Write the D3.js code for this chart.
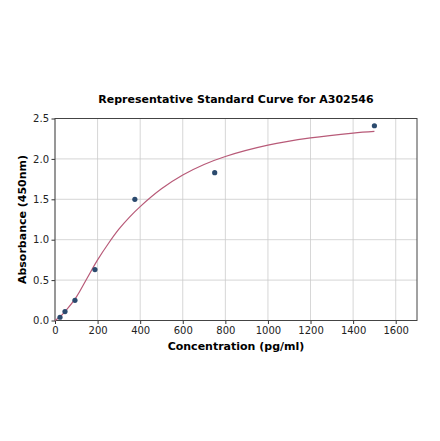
<!DOCTYPE html>
<html>
<head>
<meta charset="utf-8">
<script src="https://cdn.jsdelivr.net/npm/d3@7"></script>
<style>
body { margin: 0; background: #fff; }
svg { font-family: "DejaVu Sans", sans-serif; }
</style>
</head>
<body>
<script>
// standard points
var concentration = [23.4, 46.9, 93.75, 187.5, 375, 750, 1500];
var absorbance = [0.04, 0.11, 0.25, 0.63, 1.50, 1.83, 2.41];

// fitted curve
var curveX = [0, 25, 50, 100, 150, 200, 250, 300, 350, 400, 500, 600, 700, 800, 1000, 1200, 1400, 1500];
var curveY = [0.0, 0.05, 0.12, 0.29, 0.52, 0.75, 0.95, 1.13, 1.28, 1.41, 1.63, 1.80, 1.93, 2.03, 2.17, 2.26, 2.32, 2.34];

var xTicks = [0, 200, 400, 600, 800, 1000, 1200, 1400, 1600];
var yTicks = [0.0, 0.5, 1.0, 1.5, 2.0, 2.5];

var width = 440, height = 441;
var margin = {top: 118.5, right: 23, bottom: 120.5, left: 55};
var w = width - margin.left - margin.right, h = height - margin.top - margin.bottom;

var svg = d3.select("body").append("svg").attr("width", width).attr("height", height);

var x = d3.scaleLinear().domain([0, 1700]).range([0, w]);
var y = d3.scaleLinear().domain([0, 2.5]).range([h, 0]);

var g = svg.append("g").attr("transform", "translate(" + margin.left + "," + margin.top + ")");

// grid
g.selectAll(".xgrid").data(xTicks).enter().append("line")
	.attr("x1", function(d){return x(d);}).attr("x2", function(d){return x(d);})
	.attr("y1", 0).attr("y2", h)
	.attr("stroke", "#cccccc").attr("stroke-width", 0.8);
g.selectAll(".ygrid").data(yTicks).enter().append("line")
	.attr("y1", function(d){return y(d);}).attr("y2", function(d){return y(d);})
	.attr("x1", 0).attr("x2", w)
	.attr("stroke", "#cccccc").attr("stroke-width", 0.8);

// axes
var xAxis = g.append("g").attr("transform", "translate(0," + h + ")")
	.call(d3.axisBottom(x).tickValues(xTicks).tickSize(3.5).tickPadding(2.5).tickFormat(d3.format("d")));
var yAxis = g.append("g")
	.call(d3.axisLeft(y).tickValues(yTicks).tickSize(3.5).tickPadding(2.5).tickFormat(d3.format(".1f")));
[xAxis, yAxis].forEach(function(a){
	a.select(".domain").remove();
	a.selectAll("line").attr("stroke", "#333");
	a.selectAll("text").attr("font-size", "10px").attr("fill", "#222").attr("font-family", "DejaVu Sans");
});

// frame
g.append("rect").attr("width", w).attr("height", h)
	.attr("fill", "none").attr("stroke", "#444").attr("stroke-width", 1);

// curve
var line = d3.line().x(function(d){return x(d[0]);}).y(function(d){return y(d[1]);}).curve(d3.curveCatmullRom);
g.append("path").datum(d3.zip(curveX, curveY)).attr("d", line)
	.attr("fill", "none").attr("stroke", "#b85a78").attr("stroke-width", 1.2);

// points
g.selectAll(".pt").data(d3.zip(concentration, absorbance)).enter().append("circle")
	.attr("cx", function(d){return x(d[0]);}).attr("cy", function(d){return y(d[1]);})
	.attr("r", 2.6).attr("fill", "#2b4a6e");

// labels
svg.append("text").attr("x", margin.left + w / 2).attr("y", 103)
	.attr("text-anchor", "middle").attr("font-weight", "bold").attr("font-size", "11px")
	.text("Representative Standard Curve for A302546");
svg.append("text").attr("x", margin.left + w / 2).attr("y", 350)
	.attr("text-anchor", "middle").attr("font-weight", "bold").attr("font-size", "11px")
	.text("Concentration (pg/ml)");
svg.append("text").attr("transform", "translate(26," + (margin.top + h / 2) + ") rotate(-90)")
	.attr("text-anchor", "middle").attr("font-weight", "bold").attr("font-size", "11px")
	.text("Absorbance (450nm)");
</script>
</body>
</html>
